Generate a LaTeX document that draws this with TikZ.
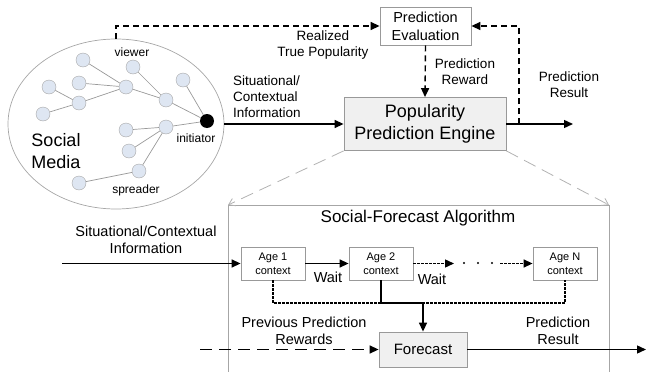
\documentclass[tikz,border=0pt]{standalone}
\usepackage{fontspec}
\setmainfont{Liberation Sans}
\usetikzlibrary{arrows.meta,shapes.geometric}

\definecolor{nodefill}{RGB}{222,230,242}
\newcommand{\fsz}[2]{\fontsize{#1}{#2}\selectfont}

\begin{document}
\begin{tikzpicture}[x=1pt,y=-1pt,
  every node/.style={inner sep=0pt,align=center},
  vertex/.style={circle,draw=gray!70,fill=nodefill,minimum size=14pt},
  seed/.style={circle,fill=black,minimum size=14pt},
  box/.style={draw=gray!80,line width=0.8pt},
  flow/.style={line width=1.4pt,-{Triangle[length=9pt,width=8pt]}},
  dashflow/.style={flow,dash pattern=on 6pt off 4pt},
  longdashflow/.style={flow,dash pattern=on 12pt off 7pt},
  dotline/.style={line width=1.4pt,dash pattern=on 2.5pt off 1.5pt},
  dotflow/.style={dotline,-{Triangle[length=9pt,width=8pt]}},
  zoomline/.style={gray!60,line width=0.8pt,dash pattern=on 13pt off 7pt,-{Straight Barb[length=6pt,width=8pt]}},
  lbl/.style={font=\fsz{13.5}{16}},
  lblb/.style={font=\fsz{14.5}{17}}
]
\useasboundingbox (0,0) rectangle (646,372);

\node[ellipse,draw=gray!70,line width=0.7pt,minimum width=216pt,minimum height=170pt] (media) at (116,124) {};

\foreach \n/\x/\y in {1/83/60,2/133/67,3/183/80,4/49/87,5/79/83,6/126/87,7/79/103,8/43/114,
  9/166/100,10/126/130,11/166/127,12/129/151,13/139/171,14/79/183}
  \node[vertex] (v\n) at (\x,\y) {};
\node[seed] (init) at (207,121) {};
\foreach \a/\b in {v1/v6,v5/v6,v4/v7,v8/v7,v7/v6,v6/v9,v2/v9,v9/init,v3/init,
  v11/init,v10/v11,v12/v11,v13/v11,v14/v13}
  \draw[gray!80,line width=0.7pt] (\a) -- (\b);

\node[font=\fsz{12}{14}] (viewer) at (132,52) {viewer};
\node[font=\fsz{12}{14}] (initlbl) at (196,138) {initiator};
\node[font=\fsz{12}{14}] (spreader) at (136,190) {spreader};
\node[font=\fsz{18}{22},align=left] (smlbl) at (56,151) {Social\\Media};

\node[box,minimum width=91pt,minimum height=38pt,font=\fsz{14.5}{18}] (eval) at (425.5,26) {Prediction\\Evaluation};
\node[box,fill=gray!12,minimum width=162pt,minimum height=53pt,font=\fsz{18}{22}] (engine) at (425,124) {Popularity\\Prediction Engine};

\node[lbl] (realized) at (323,45) {Realized\\True Popularity};
\node[lbl] (reward) at (465,72) {Prediction\\Reward};
\node[lbl,anchor=west,align=left] (sitlbl) at (233,97) {Situational/\\Contextual\\Information};
\node[lbl] (reslbl) at (569,85) {Prediction\\Result};

\coordinate (out1) at (573,124);
\coordinate (fbk) at (519,124);

\draw[dashflow] (media.north) |- (eval.west);
\draw[flow] (media.east) -- (engine.west);
\draw[dashflow] (eval.south) -- (engine.north);
\draw[flow] (engine.east) -- (out1);
\draw[dashflow] (fbk) |- (eval.east);

\coordinate (algtl) at (228,205);
\coordinate (algtr) at (609,205);
\draw[gray!70,line width=0.8pt] (228,373) -- (algtl) -- (algtr) -- (609,373);
\draw[zoomline] (engine.south west) -- (algtl);
\draw[zoomline] (engine.south east) -- (algtr);

\node[font=\fsz{17}{20}] (algo) at (418,218) {Social-Forecast Algorithm};

\node[box,minimum width=64pt,minimum height=33pt,font=\fsz{11}{14}] (age1) at (273,263.5) {Age 1\\context};
\node[box,minimum width=64pt,minimum height=33pt,font=\fsz{11}{14}] (age2) at (381,263.5) {Age 2\\context};
\node[box,minimum width=64pt,minimum height=33pt,font=\fsz{11}{14}] (ageN) at (565,263.5) {Age N\\context};
\node[box,fill=gray!12,minimum width=88pt,minimum height=35pt,font=\fsz{15}{18}] (fc) at (423,349.5) {Forecast};

\node[lblb] (sitlbl2) at (146,240) {Situational/Contextual\\Information};
\node[lblb] (wait1) at (328,277) {Wait};
\node[lblb] (wait2) at (432,279) {Wait};
\node[lblb] (prevlbl) at (304,331) {Previous Prediction\\Rewards};
\node[lblb] (reslbl2) at (558,331) {Prediction\\Result};

\coordinate (sitin) at (62,263.5);
\coordinate (gap1) at (454,263.5);
\coordinate (gap2) at (500,263.5);
\coordinate (bus) at (0,303);
\coordinate (previn) at (200,349.5);
\coordinate (out2) at (646,349.5);

\draw[flow] (sitin) -- (age1.west);
\draw[flow] (age1) -- (age2);
\draw[dotflow] (age2) -- (gap1);
\foreach \x in {464,478,492}
  \fill (\x,263) circle (1.2pt);
\draw[dotflow] (gap2) -- (ageN);
\draw[dotline] (age1.south) |- (bus -| ageN.south) -- (ageN.south);
\draw[flow] (age2.south) |- (bus -| fc.north) -- (fc.north);
\draw[longdashflow] (previn) -- (fc.west);
\draw[flow] (fc.east) -- (out2);

\end{tikzpicture}
\end{document}
